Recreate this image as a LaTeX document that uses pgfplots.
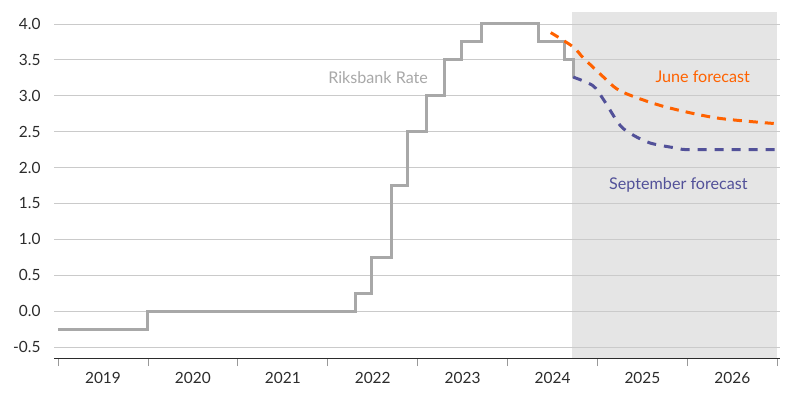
\documentclass[border=0pt]{standalone}
\usepackage{fontspec}
\setmainfont{Lato}
\usepackage{pgfplots}
\pgfplotsset{compat=1.18}
\definecolor{rikgray}{HTML}{A8A8A8}
\definecolor{ingorange}{HTML}{FF6200}
\definecolor{ingpurple}{HTML}{525199}
\definecolor{shade}{HTML}{E5E5E5}
\definecolor{gridc}{HTML}{CACACA}
\definecolor{tickc}{HTML}{2B2B2B}
\begin{document}
\begin{tikzpicture}
\begin{axis}[
  set layers,
  scale only axis,
  width=726bp, height=346bp,
  anchor=south west, at={(0,0)},
  xmin=2018.955, xmax=2027.03,
  ymin=-0.653, ymax=4.167,
  axis x line*=bottom, axis y line*=left,
  y axis line style={draw=none},
  x axis line style={draw=tickc, line width=1bp},
  ytick={-0.5,0,0.5,1,1.5,2,2.5,3,3.5,4},
  ymajorgrids, grid style={draw=gridc, line width=0.9bp},
  ytick style={draw=none},
  xtick={2019.5,2020.5,2021.5,2022.5,2023.5,2024.5,2025.5,2026.5},
  xticklabels={2019,2020,2021,2022,2023,2024,2025,2026},
  minor xtick={2019,2020,2021,2022,2023,2024,2025,2026,2027},
  major tick length=0pt, minor tick length=8bp,
  tick align=outside,
  minor x tick style={draw=gray!80, line width=0.9bp},
  xtick style={draw=none},
  ticklabel style={font=\fontsize{15.5}{17}\selectfont, text=tickc},
  xticklabel style={yshift=-11bp},
  yticklabel style={xshift=-10bp, /pgf/number format/.cd, fixed, fixed zerofill, precision=1, assume math mode=true},
  clip=false,
]
\addplot[draw=none, fill=shade, on layer=axis background] coordinates {(2024.72,-0.653)(2027,-0.653)(2027,4.167)(2024.72,4.167)} -- cycle;

\addplot[const plot, rikgray, line width=3bp] coordinates {
(2019.0,-0.25)(2019.99,0)(2022.31,0.25)(2022.49,0.75)(2022.71,1.75)(2022.89,2.5)
(2023.10,3.0)(2023.30,3.5)(2023.49,3.75)(2023.71,4.0)(2024.34,3.75)(2024.63,3.5)(2024.73,3.25)};

\addplot[smooth, ingorange, line width=3bp, dash pattern=on 9bp off 7bp] coordinates {
(2024.48,3.88)(2024.73,3.68)(2024.84,3.53)(2025.05,3.28)(2025.21,3.10)(2025.40,2.99)(2025.77,2.84)(2026.33,2.69)(2027.0,2.61)};

\addplot[smooth, ingpurple, line width=3bp, dash pattern=on 9bp off 8bp] coordinates {
(2024.73,3.26)(2024.95,3.14)(2025.07,2.94)(2025.25,2.59)(2025.40,2.45)(2025.59,2.34)(2025.88,2.27)(2026.0,2.25)(2026.5,2.25)(2027.0,2.25)};

\node[text=rikgray, font=\fontsize{16.2}{18}\selectfont] at (axis cs:2022.56,3.25) {Riksbank Rate};
\node[text=ingorange, font=\fontsize{16.2}{18}\selectfont] at (axis cs:2026.17,3.26) {June forecast};
\node[text=ingpurple, font=\fontsize{16.2}{18}\selectfont] at (axis cs:2025.90,1.76) {September forecast};
\end{axis}
\useasboundingbox (-54bp,-54bp) rectangle (746bp,358bp);
\end{tikzpicture}
\end{document}
